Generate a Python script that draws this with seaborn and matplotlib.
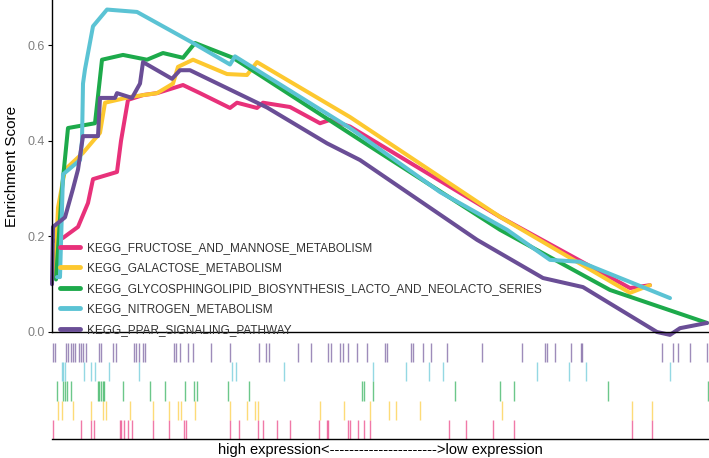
import numpy as np
import pandas as pd
import matplotlib
matplotlib.use("Agg")
import matplotlib.pyplot as plt
import seaborn as sns

pathways = ["KEGG_FRUCTOSE_AND_MANNOSE_METABOLISM",
            "KEGG_GALACTOSE_METABOLISM",
            "KEGG_GLYCOSPHINGOLIPID_BIOSYNTHESIS_LACTO_AND_NEOLACTO_SERIES",
            "KEGG_NITROGEN_METABOLISM",
            "KEGG_PPAR_SIGNALING_PATHWAY"]
colors = ["#E8317A", "#FDC82F", "#1DAA4B", "#5BC3D4", "#6A4E96"]
n_genes = 6570

# running enrichment score (rank, ES)
fructose_rank = [10, 110, 260, 360, 410, 650, 690, 760, 910, 1050, 1310, 1480, 1780, 1850,
                 2050, 2110, 2380, 2680, 2780, 2980, 4480, 5780, 5980]
fructose_es = [0.19, 0.197, 0.22, 0.27, 0.32, 0.335, 0.40, 0.486, 0.496, 0.50, 0.517, 0.50,
               0.469, 0.48, 0.469, 0.48, 0.471, 0.437, 0.444, 0.43, 0.241, 0.092, 0.098]

galactose_rank = [30, 60, 130, 310, 480, 530, 780, 1050, 1210, 1260, 1410, 1750, 1950, 2050,
                  2980, 4480, 5780, 5980]
galactose_es = [0.115, 0.26, 0.34, 0.375, 0.417, 0.48, 0.492, 0.50, 0.52, 0.555, 0.57, 0.54,
                0.538, 0.565, 0.45, 0.241, 0.082, 0.098]

glyco_rank = [40, 100, 160, 430, 500, 710, 950, 1110, 1310, 1430, 1810, 3080, 4480, 5580, 6550]
glyco_es = [0.11, 0.30, 0.427, 0.437, 0.57, 0.58, 0.57, 0.584, 0.574, 0.605, 0.574, 0.402,
            0.214, 0.088, 0.019]

nitrogen_rank = [50, 80, 110, 280, 300, 310, 330, 410, 550, 850, 1410, 1780, 1830, 2980, 3880,
                 4550, 4980, 5280, 6180]
nitrogen_es = [0.115, 0.115, 0.33, 0.36, 0.40, 0.52, 0.55, 0.64, 0.675, 0.67, 0.605, 0.56,
               0.577, 0.427, 0.293, 0.214, 0.151, 0.147, 0.071]

ppar_rank = [0, 10, 130, 210, 260, 310, 460, 480, 630, 650, 800, 880, 910, 1200, 1280, 1380,
             2150, 2750, 3080, 4250, 4910, 5310, 6050, 6180, 6280, 6550]
ppar_es = [0.10, 0.22, 0.24, 0.30, 0.34, 0.41, 0.41, 0.49, 0.49, 0.50, 0.49, 0.52, 0.565, 0.53,
           0.548, 0.548, 0.47, 0.395, 0.36, 0.193, 0.113, 0.094, 0.0, -0.006, 0.008, 0.019]

# positions of pathway genes in the ranked list
fructose_hits = [13, 287, 387, 420, 680, 693, 723, 763, 797, 1013, 1173, 1323, 1340, 1780, 1870,
                 2063, 2113, 2247, 2380, 2670, 2747, 2757, 2957, 2980, 3063, 3123, 3180, 3970,
                 4137, 4407, 4620, 5803, 6003]
galactose_hits = [57, 103, 207, 387, 513, 540, 780, 1013, 1173, 1257, 1287, 1430, 1780, 1953,
                  2030, 2057, 2680, 2923, 3180, 3370, 3440, 3680, 4503, 5803, 6003]
glyco_hits = [53, 113, 130, 147, 190, 457, 473, 490, 507, 523, 713, 980, 1130, 1330, 1423, 1447,
              1763, 1970, 3097, 3123, 3213, 4030, 4480, 4620, 5557, 6563]
nitrogen_hits = [97, 113, 130, 323, 390, 430, 573, 873, 1803, 1840, 2323, 3213, 3537, 3773,
                 3907, 4847, 5173, 5337, 6183]
ppar_hits = [13, 30, 140, 163, 187, 207, 230, 273, 290, 307, 340, 470, 490, 613, 640, 820, 840,
             873, 913, 930, 1220, 1240, 1280, 1357, 1407, 1587, 1780, 2070, 2137, 2170, 2463,
             2587, 2763, 2790, 2880, 2913, 2957, 3047, 3147, 3330, 3350, 3590, 3610, 3707, 3790,
             3953, 4300, 4697, 4930, 4950, 5030, 5190, 5290, 5300, 6097, 6207, 6260, 6380, 6547]

ranks = [fructose_rank, galactose_rank, glyco_rank, nitrogen_rank, ppar_rank]
scores = [fructose_es, galactose_es, glyco_es, nitrogen_es, ppar_es]
hits = [fructose_hits, galactose_hits, glyco_hits, nitrogen_hits, ppar_hits]

df = pd.concat([pd.DataFrame({"rank": r, "es": s, "pathway": p})
                for r, s, p in zip(ranks, scores, pathways)], ignore_index=True)

sns.set_style("white")
plt.rcParams["font.family"] = ["Liberation Sans", "DejaVu Sans"]

fig = plt.figure(figsize=(7.09, 4.58), dpi=100)
ax = fig.add_axes([52 / 709, 126 / 458, 657 / 709, 332 / 458])
ax2 = fig.add_axes([52 / 709, 19 / 458, 657 / 709, 96 / 458])

sns.lineplot(data=df, x="rank", y="es", hue="pathway", hue_order=pathways, palette=colors,
             sort=False, estimator=None, linewidth=2.9, ax=ax)
for ln in ax.lines:
    ln.set_clip_on(False)

ax.set_xlim(0, n_genes)
ax.set_ylim(0, 0.695)
ax.set_yticks([0.0, 0.2, 0.4, 0.6])
ax.set_yticklabels(["0.0", "0.2", "0.4", "0.6"])
ax.set_xticks([])
ax.set_xlabel("")
ax.set_ylabel("Enrichment Score", fontsize=11, color="black", labelpad=6)
ax.tick_params(axis="y", labelsize=9, labelcolor="#808080", length=3, width=0.8,
               color="black", left=True, pad=2)
for side in ["top", "right"]:
    ax.spines[side].set_visible(False)
for side in ["left", "bottom"]:
    ax.spines[side].set_color("black")
    ax.spines[side].set_linewidth(1.0)

leg = ax.legend(loc="center left", bbox_to_anchor=(0.012, 0.13), frameon=False,
                fontsize=8.5, handlelength=1.7, handletextpad=0.6, labelspacing=0.72,
                borderpad=0, borderaxespad=0)
for h in leg.get_lines():
    h.set_linewidth(3.5)
for t in leg.get_texts():
    t.set_color("#333333")

# gene hit rug, one row per pathway
for i, (hh, c) in enumerate(zip(hits, colors)):
    ax2.vlines(hh, i, i + 1, color=c, alpha=0.65, linewidth=1.0)
ax2.set_xlim(0, n_genes)
ax2.set_ylim(0, 5)
ax2.set_xticks([])
ax2.set_yticks([])
for side in ["top", "right", "left"]:
    ax2.spines[side].set_visible(False)
ax2.spines["bottom"].set_color("black")
ax2.spines["bottom"].set_linewidth(1.0)
ax2.set_xlabel("high expression<" + "-" * 22 + ">low expression", fontsize=10.5,
               color="black", labelpad=3)

fig.savefig("out.png", dpi=100)
